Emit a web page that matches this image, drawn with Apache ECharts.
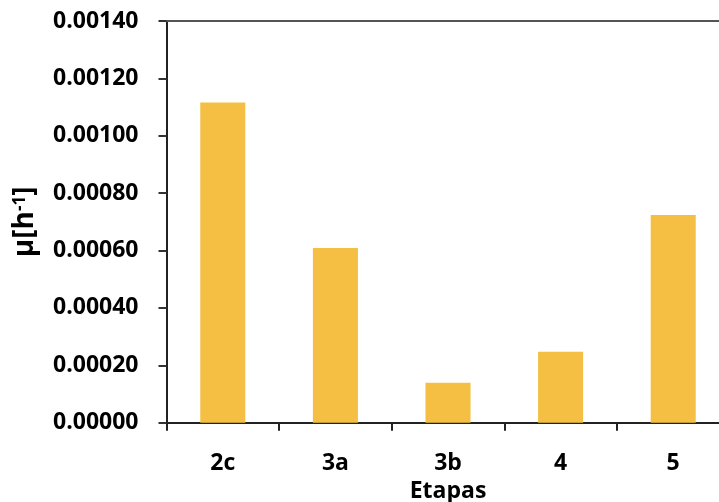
<!DOCTYPE html>
<html>
<head>
<meta charset="utf-8">
<script src="https://cdn.jsdelivr.net/npm/echarts@6/dist/echarts.min.js"></script>
<style>
  html, body { margin: 0; padding: 0; background: #fff; width: 719px; height: 502px; overflow: hidden; }
  #chart { width: 730px; height: 502px; }
</style>
</head>
<body>
<div id="chart"></div>
<script>
// Growth rate per stage
const etapas = ['2c', '3a', '3b', '4', '5'];
const mu = [0.001116, 0.000609, 0.000139, 0.000247, 0.000724];
const yTicks = { min: 0, max: 0.0014, step: 0.0002 };

const FONT = '"Open Sans"';
const chart = echarts.init(document.getElementById('chart'), null, { renderer: 'canvas' });

chart.setOption({
  animation: false,
  backgroundColor: '#ffffff',
  grid: { left: 166.5, top: 21, right: 0.5, bottom: 79.3, containLabel: false, outerBoundsMode: 'none' },
  xAxis: [
    {
      type: 'category',
      data: etapas,
      position: 'bottom',
      name: 'Etapas',
      nameLocation: 'middle',
      nameGap: 49,
      nameTextStyle: { fontFamily: FONT, fontWeight: 'bold', fontSize: 23, color: '#000' },
      axisLine: { show: true, lineStyle: { color: '#222', width: 2 } },
      axisTick: { show: true, alignWithLabel: false, length: 8, lineStyle: { color: '#222', width: 2 } },
      axisLabel: { margin: 29, fontFamily: FONT, fontWeight: 'bold', fontSize: 23, color: '#000' },
      splitLine: { show: false }
    },
    {
      // top border of the plot area
      type: 'category',
      data: etapas,
      position: 'top',
      axisLine: { show: true, lineStyle: { color: '#555', width: 2 } },
      axisTick: { show: false },
      axisLabel: { show: false },
      splitLine: { show: false }
    }
  ],
  yAxis: {
    type: 'value',
    min: yTicks.min,
    max: yTicks.max,
    interval: yTicks.step,
    name: 'μ[h{sup|-1}]',
    nameLocation: 'middle',
    nameGap: 127,
    nameRotate: 90,
    nameTextStyle: {
      fontFamily: FONT, fontWeight: 'bold', fontSize: 28, color: '#000',
      rich: {
        sup: { fontFamily: FONT, fontWeight: 'bold', fontSize: 17, color: '#000', verticalAlign: 'top', lineHeight: 17, padding: [0, 0, 12, 0] }
      }
    },
    axisLine: { show: true, lineStyle: { color: '#222', width: 2 } },
    axisTick: { show: true, length: 8, lineStyle: { color: '#333', width: 2 } },
    axisLabel: {
      margin: 28,
      fontFamily: FONT, fontWeight: 'bold', fontSize: 23, color: '#000',
      formatter: v => v.toFixed(5)
    },
    splitLine: { show: false }
  },
  series: [
    {
      type: 'bar',
      xAxisIndex: 0,
      data: mu,
      barWidth: '40%',
      itemStyle: { color: '#F4BF42' }
    }
  ]
});
</script>
</body>
</html>
